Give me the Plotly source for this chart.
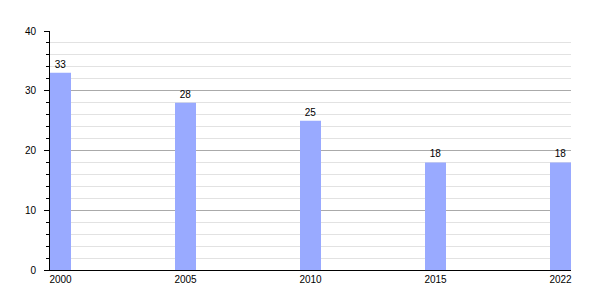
import plotly.graph_objects as go

years = ["2000", "2005", "2010", "2015", "2022"]
values = [33, 28, 25, 18, 18]
positions = list(range(len(years)))

fig = go.Figure(go.Bar(
    x=positions, y=values, width=0.168,
    marker=dict(color="#99aaff", line=dict(width=0)),
    text=[str(v) for v in values], textposition="outside",
    textfont=dict(family="Liberation Sans, Arial", size=10, color="black"),
    cliponaxis=False,
))

fig.update_layout(
    width=600, height=300,
    margin=dict(l=50, r=29, t=31, b=30),
    plot_bgcolor="white", paper_bgcolor="white",
    showlegend=False,
    font=dict(family="Liberation Sans, Arial", size=10, color="black"),
    xaxis=dict(
        tickmode="array", tickvals=positions, ticktext=years,
        range=[-0.084, 4.084], showgrid=False, zeroline=False,
        showline=True, linecolor="black", linewidth=1, ticks="",
        tickfont=dict(size=10), fixedrange=True,
    ),
    yaxis=dict(
        range=[0, 40], dtick=10, tick0=0,
        showgrid=True, gridcolor="#aaaaaa", gridwidth=1,
        zeroline=False, showline=True, linecolor="black", linewidth=1,
        ticks="outside", ticklen=5, tickcolor="black",
        ticklabelstandoff=6,
        minor=dict(dtick=2, showgrid=True, gridcolor="#e2e2e2", gridwidth=1,
                   ticks="outside", ticklen=3, tickcolor="black"),
        tickfont=dict(size=10),
    ),
)

fig.write_html("out.html")
